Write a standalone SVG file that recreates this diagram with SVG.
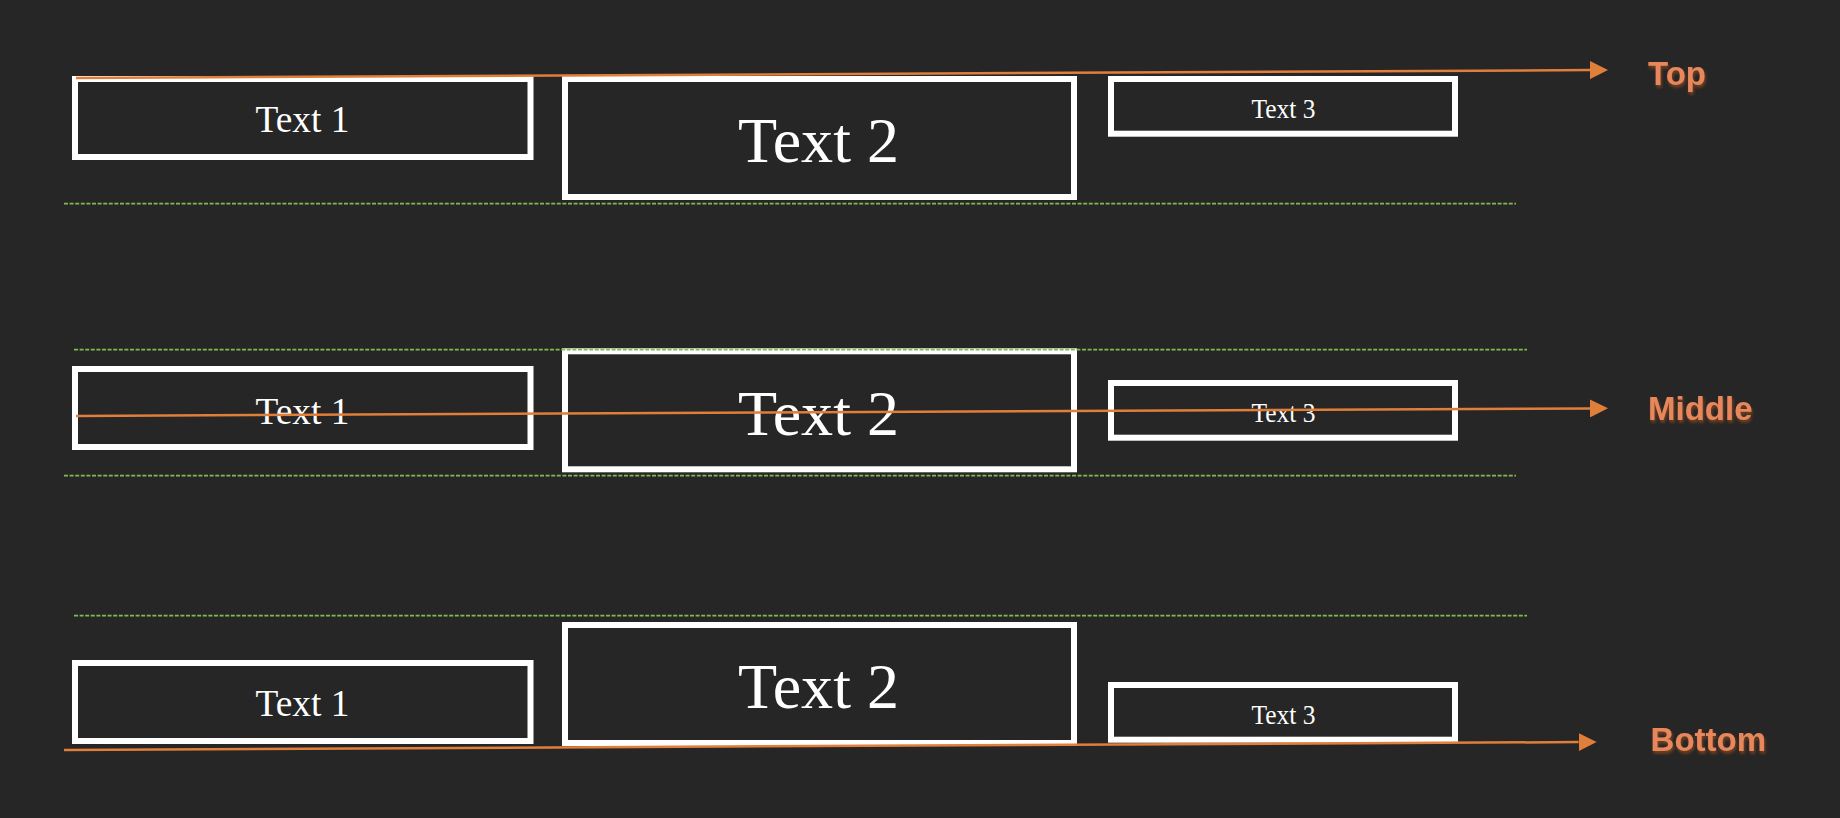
<svg xmlns="http://www.w3.org/2000/svg" width="1840" height="818" viewBox="0 0 1840 818">
  <style>
    .box { fill: none; stroke: #ffffff; stroke-width: 6; }
    .t { font-family: "Liberation Serif", "Times New Roman", serif; fill: #ffffff; text-anchor: middle; }
    .t1 { font-size: 38px; }
    .t2 { font-size: 64px; }
    .t3 { font-size: 27px; }
    .guide { stroke: #84b94e; stroke-width: 1.8; stroke-dasharray: 4 1.6; fill: none; }
    .arrow { stroke: #e07f3a; stroke-width: 2.5; fill: none; }
    .lbl { font-family: "Liberation Sans", Arial, sans-serif; font-weight: bold; font-size: 33px; fill: #e8875b; }
  </style>
  <defs>
    <marker id="head" viewBox="0 0 18 18" refX="0" refY="9" markerWidth="18" markerHeight="18" markerUnits="userSpaceOnUse" orient="auto">
      <path d="M0,0 L18,9 L0,18 Z" fill="#e07f3a"/>
    </marker>
    <filter id="shadow" x="-20%" y="-30%" width="140%" height="170%">
      <feDropShadow dx="1" dy="2.5" stdDeviation="1.8" flood-color="#8a4a22" flood-opacity="0.85"/>
    </filter>
  </defs>
  <rect x="0" y="0" width="1840" height="818" fill="#262626"/>

  <!-- Top row -->
  <g id="top-text1"><rect class="box" x="75" y="79" width="455.5" height="78"/><text class="t t1" x="302.5" y="132.3" textLength="94" lengthAdjust="spacingAndGlyphs">Text 1</text></g>
  <g id="top-text2"><rect class="box" x="565" y="79" width="509" height="118"/><text class="t t2" x="818.5" y="162.3" textLength="161" lengthAdjust="spacingAndGlyphs">Text 2</text></g>
  <g id="top-text3"><rect class="box" x="1111" y="79" width="344" height="54.7"/><text class="t t3" x="1283.5" y="118.3" textLength="64" lengthAdjust="spacingAndGlyphs">Text 3</text></g>

  <!-- Middle row -->
  <g id="mid-text1"><rect class="box" x="75" y="369" width="455.5" height="78"/><text class="t t1" x="302.5" y="424.3" textLength="94" lengthAdjust="spacingAndGlyphs">Text 1</text></g>
  <g id="mid-text2"><rect class="box" x="565" y="351.3" width="509" height="118"/><text class="t t2" x="818.5" y="435" textLength="161" lengthAdjust="spacingAndGlyphs">Text 2</text></g>
  <g id="mid-text3"><rect class="box" x="1111" y="383" width="344" height="54.7"/><text class="t t3" x="1283.5" y="422.3" textLength="64" lengthAdjust="spacingAndGlyphs">Text 3</text></g>

  <!-- Bottom row -->
  <g id="bot-text1"><rect class="box" x="75" y="663" width="455.5" height="78"/><text class="t t1" x="302.5" y="715.7" textLength="94" lengthAdjust="spacingAndGlyphs">Text 1</text></g>
  <g id="bot-text2"><rect class="box" x="565" y="625" width="509" height="118"/><text class="t t2" x="818.5" y="707.7" textLength="161" lengthAdjust="spacingAndGlyphs">Text 2</text></g>
  <g id="bot-text3"><rect class="box" x="1111" y="685" width="344" height="54.7"/><text class="t t3" x="1283.5" y="724" textLength="64" lengthAdjust="spacingAndGlyphs">Text 3</text></g>

  <!-- Guide lines -->
  <g id="guides">
    <line class="guide" x1="64" y1="203.7" x2="1516" y2="203.7"/>
    <line class="guide" x1="74" y1="349.7" x2="1527" y2="349.7"/>
    <line class="guide" x1="64" y1="475.7" x2="1516" y2="475.7"/>
    <line class="guide" x1="74" y1="615.7" x2="1527" y2="615.7"/>
  </g>

  <!-- Connectors -->
  <g id="connectors">
    <line class="arrow" x1="76" y1="78" x2="1590" y2="70.1" marker-end="url(#head)"/>
    <line class="arrow" x1="76" y1="416" x2="1590" y2="408.4" marker-end="url(#head)"/>
    <line class="arrow" x1="64" y1="750" x2="1578.6" y2="742.1" marker-end="url(#head)"/>
  </g>

  <!-- Labels -->
  <g id="label-top"><text class="lbl" x="1648" y="85" filter="url(#shadow)">Top</text></g>
  <g id="label-middle"><text class="lbl" x="1648" y="419.5" filter="url(#shadow)">Middle</text></g>
  <g id="label-bottom"><text class="lbl" x="1650.6" y="750.7" filter="url(#shadow)">Bottom</text></g>
</svg>
